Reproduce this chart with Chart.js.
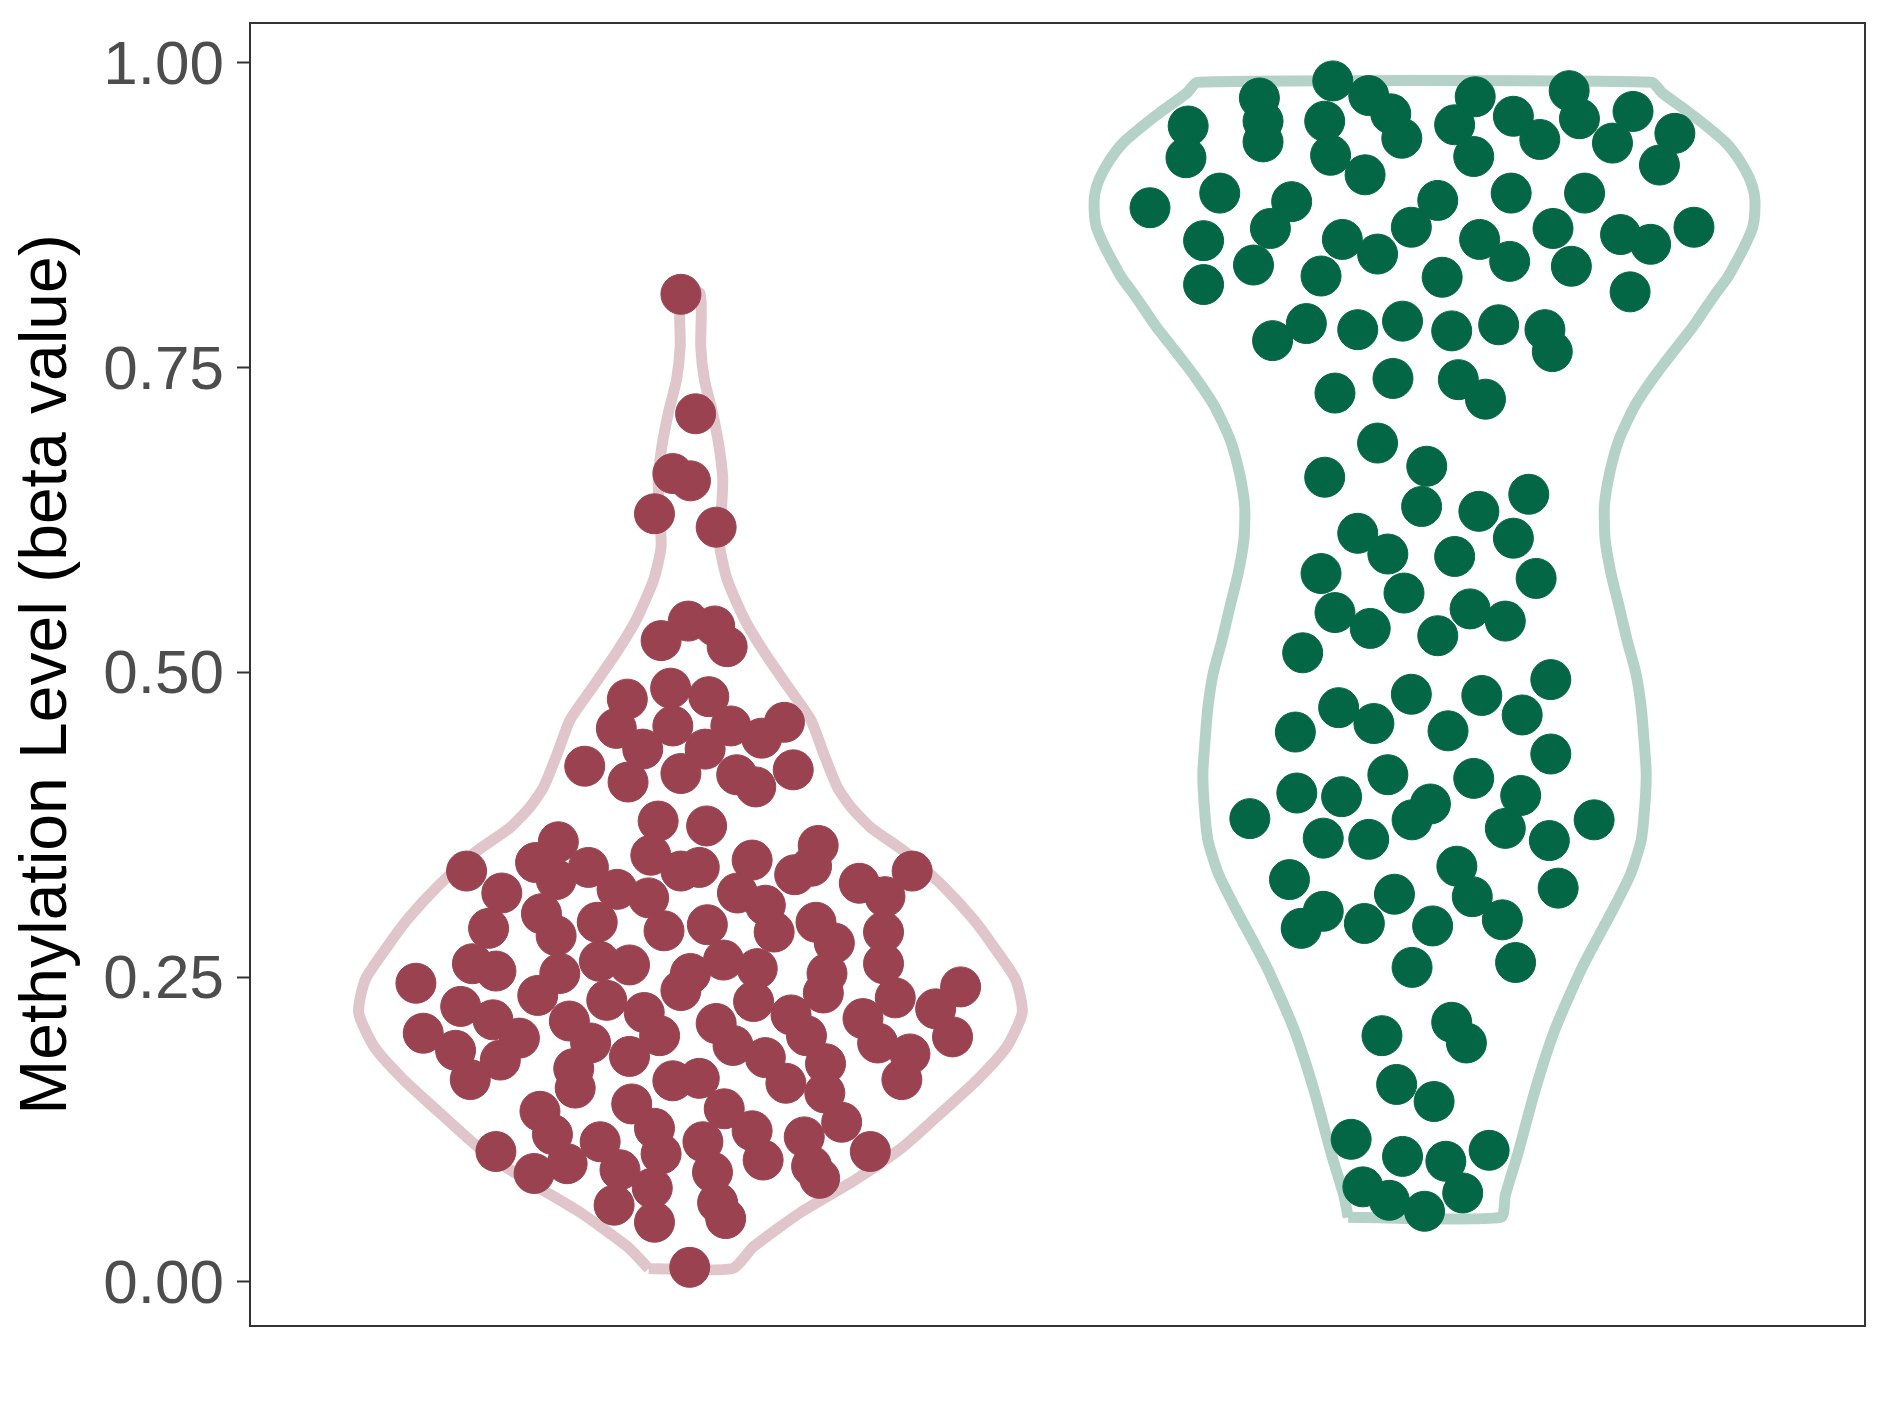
<!DOCTYPE html>
<html>
<head>
<meta charset="utf-8">
<script src="https://cdn.jsdelivr.net/npm/chart.js@4.4.1/dist/chart.umd.min.js"></script>
<style>
  html, body { margin: 0; padding: 0; background: #fff; }
  #wrap { width: 1889px; height: 1417px; }
</style>
</head>
<body>
<div id="wrap"><canvas id="violin"></canvas></div>
<script>
const Y_TICKS = [0, 0.25, 0.5, 0.75, 1];
const Y_TITLE = 'Methylation Level (beta value)';
const GROUP_POS = [1, 2];

// violin outlines: beta value and half width (x units), bottom to top
const V1_Y  = [0.011, 0.029, 0.057, 0.084, 0.111, 0.139, 0.166, 0.193, 0.221, 0.248, 0.275, 0.297, 0.324, 0.352, 0.373, 0.390,
  0.406, 0.434, 0.461, 0.488, 0.516, 0.543, 0.576, 0.603, 0.631, 0.658, 0.685, 0.713, 0.740, 0.767, 0.811];
const V1_HW = [0.057, 0.086, 0.150, 0.225, 0.290, 0.342, 0.391, 0.431, 0.452, 0.443, 0.413, 0.386, 0.345, 0.294, 0.245, 0.218,
  0.200, 0.181, 0.164, 0.133, 0.101, 0.074, 0.050, 0.040, 0.042, 0.044, 0.039, 0.030, 0.019, 0.014, 0.013];
const V2_Y  = [0.053, 0.071, 0.105, 0.156, 0.206, 0.257, 0.307, 0.335, 0.362, 0.390, 0.417, 0.444, 0.472, 0.499, 0.526, 0.554, 0.581,
  0.609, 0.636, 0.663, 0.691, 0.718, 0.745, 0.770, 0.783, 0.797, 0.811, 0.824, 0.838, 0.852, 0.865, 0.879, 0.893, 0.906,
  0.920, 0.934, 0.947, 0.961, 0.975, 0.984];
const V2_HW = [0.104, 0.110, 0.127, 0.150, 0.177, 0.214, 0.258, 0.281, 0.295, 0.300, 0.302, 0.299, 0.295, 0.288, 0.276, 0.265, 0.254,
  0.246, 0.245, 0.252, 0.265, 0.286, 0.316, 0.348, 0.365, 0.381, 0.397, 0.413, 0.426, 0.438, 0.447, 0.450, 0.449, 0.442,
  0.429, 0.411, 0.386, 0.356, 0.324, 0.309];

// jittered samples, group 1
const RED_X = [0.987,1.007,0.976,1.000,0.951,1.035,0.997,0.960,1.033,1.050,0.973,0.914,1.025,0.899,0.976,1.055,0.935,1.020,1.128,1.097,
  0.856,0.915,0.987,1.063,1.089,1.140,0.956,1.022,0.946,0.820,0.789,0.817,0.861,0.987,1.012,1.084,1.142,1.165,1.174,0.695,
  0.743,0.900,0.943,1.064,1.102,1.230,1.265,1.302,0.797,0.873,0.964,1.023,1.114,1.171,0.725,0.817,1.263,1.196,0.703,0.735,
  0.876,0.917,1.045,1.091,0.822,1.000,1.186,1.263,0.626,0.792,0.886,0.987,1.086,1.181,1.279,1.368,0.687,0.731,0.835,0.937,
  1.035,1.137,1.235,1.334,0.636,0.767,0.864,0.958,1.058,1.158,1.255,1.357,0.680,0.741,0.917,1.102,1.184,1.299,0.841,0.700,
  0.843,0.976,1.012,1.130,1.288,1.183,0.920,1.046,0.795,1.206,0.951,1.084,0.812,0.877,1.017,1.155,0.735,0.960,1.245,1.099,
  0.832,0.904,1.165,1.030,0.787,1.176,0.948,0.896,1.037,1.048,0.951,0.999];
const RED_Y = [0.810,0.712,0.663,0.657,0.630,0.619,0.542,0.526,0.538,0.521,0.487,0.478,0.480,0.454,0.456,0.456,0.437,0.437,0.459,0.446,
  0.423,0.410,0.417,0.416,0.406,0.420,0.378,0.374,0.350,0.361,0.344,0.330,0.340,0.337,0.340,0.346,0.334,0.341,0.358,0.337,
  0.319,0.322,0.315,0.319,0.309,0.327,0.316,0.337,0.302,0.295,0.288,0.293,0.287,0.295,0.290,0.284,0.287,0.278,0.261,0.255,
  0.263,0.260,0.264,0.257,0.253,0.253,0.253,0.261,0.245,0.235,0.231,0.239,0.230,0.237,0.233,0.242,0.226,0.215,0.214,0.221,
  0.212,0.219,0.216,0.224,0.204,0.200,0.196,0.202,0.194,0.202,0.196,0.201,0.190,0.182,0.185,0.184,0.179,0.187,0.175,0.166,
  0.159,0.165,0.167,0.163,0.166,0.155,0.146,0.142,0.140,0.131,0.126,0.124,0.121,0.115,0.115,0.119,0.107,0.105,0.107,0.100,
  0.097,0.092,0.095,0.090,0.089,0.085,0.077,0.063,0.065,0.052,0.049,0.012];

// jittered samples, group 2
const GREEN_X = [1.875,2.197,1.775,1.924,2.069,1.954,1.678,1.780,1.864,2.041,2.121,2.211,2.284,2.341,1.969,1.780,2.157,2.256,1.675,1.872,
  2.067,2.320,1.919,1.721,1.819,2.018,2.118,2.218,1.626,1.790,1.982,2.175,2.267,2.308,2.367,1.699,1.888,2.075,1.936,2.116,
  1.767,2.200,1.859,2.024,1.699,2.280,1.839,1.909,1.970,2.037,2.101,2.164,1.793,2.174,1.957,2.046,1.878,2.083,1.936,2.003,
  1.864,2.142,1.996,2.074,1.909,2.121,1.950,2.041,1.859,2.152,1.972,2.062,1.878,2.110,1.926,2.018,1.834,2.172,1.982,2.078,
  1.883,2.133,1.931,1.824,2.032,2.172,1.950,2.067,1.826,1.887,2.131,2.008,1.762,1.983,2.231,2.110,1.862,1.924,2.170,2.044,
  1.816,1.959,2.065,2.182,1.862,2.106,1.832,1.918,2.011,2.124,1.983,1.942,2.037,2.057,1.962,2.013,1.900,2.088,1.970,2.029,
  1.916,2.052,1.952,2.000];
const GREEN_Y = [0.985,0.977,0.971,0.973,0.972,0.958,0.948,0.952,0.952,0.949,0.956,0.954,0.960,0.942,0.938,0.935,0.937,0.934,0.922,0.924,
  0.923,0.916,0.908,0.893,0.886,0.887,0.893,0.893,0.881,0.864,0.865,0.864,0.859,0.851,0.865,0.854,0.855,0.855,0.843,0.837,
  0.834,0.833,0.825,0.824,0.818,0.812,0.786,0.781,0.788,0.780,0.785,0.781,0.772,0.763,0.741,0.740,0.729,0.724,0.688,0.669,
  0.660,0.646,0.636,0.632,0.614,0.610,0.597,0.595,0.581,0.577,0.565,0.552,0.549,0.542,0.536,0.530,0.516,0.494,0.482,0.481,
  0.471,0.465,0.458,0.451,0.452,0.433,0.416,0.413,0.401,0.398,0.399,0.392,0.380,0.379,0.379,0.372,0.364,0.363,0.362,0.341,
  0.330,0.318,0.316,0.323,0.304,0.297,0.290,0.294,0.292,0.262,0.258,0.202,0.213,0.196,0.162,0.148,0.117,0.108,0.103,0.099,
  0.078,0.073,0.067,0.058];

function outline(center, ys, hws) {
  const left = ys.map((y, i) => ({x: center - hws[i], y}));
  const right = ys.map((y, i) => ({x: center + hws[i], y})).reverse();
  return left.concat(right, [left[0]]);
}

function pts(xs, ys) {
  return xs.map((x, i) => ({x, y: ys[i]}));
}

const panelBorder = {
  id: 'panelBorder',
  afterDraw(chart) {
    const {ctx, chartArea: a} = chart;
    ctx.save();
    ctx.strokeStyle = '#333333';
    ctx.lineWidth = 2;
    ctx.strokeRect(a.left, a.top, a.right - a.left, a.bottom - a.top);
    ctx.restore();
  }
};

new Chart(document.getElementById('violin'), {
  type: 'scatter',
  plugins: [panelBorder],
  data: {
    datasets: [
      {
        data: pts(RED_X, RED_Y),
        backgroundColor: '#9A4250',
        borderColor: '#9A4250',
        pointRadius: 20,
        order: 1
      },
      {
        data: pts(GREEN_X, GREEN_Y),
        backgroundColor: '#036745',
        borderColor: '#036745',
        pointRadius: 20,
        order: 1
      },
      {
        data: outline(GROUP_POS[0], V1_Y, V1_HW),
        showLine: true,
        borderColor: '#E0C6CB',
        borderWidth: 11,
        borderJoinStyle: 'round',
        tension: 0.2,
        pointRadius: 0,
        order: 2
      },
      {
        data: outline(GROUP_POS[1], V2_Y, V2_HW),
        showLine: true,
        borderColor: '#B4D2C7',
        borderWidth: 11,
        borderJoinStyle: 'round',
        tension: 0.2,
        pointRadius: 0,
        order: 2
      }
    ]
  },
  options: {
    responsive: true,
    maintainAspectRatio: false,
    animation: false,
    layout: {
      padding: {top: 23, right: 24, bottom: 91, left: 0}
    },
    scales: {
      x: {
        type: 'linear',
        min: 0.4,
        max: 2.6,
        display: false
      },
      y: {
        min: -0.0361,
        max: 1.0325,
        afterBuildTicks: (scale) => {
          scale.ticks = Y_TICKS.map(v => ({value: v}));
        },
        afterFit: (scale) => {
          scale.width = 250;
          scale.paddingTop = 0;
          scale.paddingBottom = 0;
        },
        border: {display: false},
        grid: {
          drawOnChartArea: false,
          drawTicks: true,
          tickLength: 13,
          tickColor: '#333333',
          tickWidth: 2
        },
        ticks: {
          padding: 13,
          labelOffset: 4,
          color: '#4D4D4D',
          font: {family: 'Liberation Sans', size: 62},
          callback: (v) => Number(v).toFixed(2)
        },
        title: {
          display: true,
          text: Y_TITLE,
          color: '#000000',
          font: {family: 'Liberation Sans', size: 66, lineHeight: 1.2},
          padding: {top: 8, bottom: 0}
        }
      }
    },
    plugins: {
      legend: {display: false},
      tooltip: {enabled: false}
    }
  }
});
</script>
</body>
</html>
